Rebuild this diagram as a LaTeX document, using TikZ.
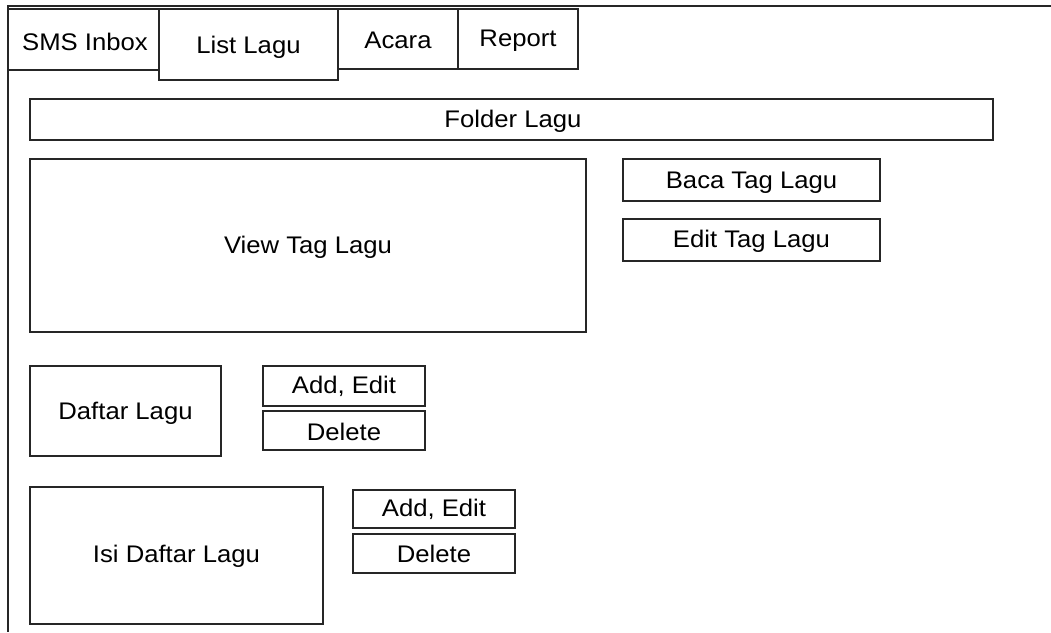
\documentclass[tikz,border=0pt]{standalone}
\usepackage{fontspec}
\setmainfont{Liberation Sans}
\newcommand{\wtxt}[1]{\scalebox{1.07}[1]{#1}}
\begin{document}
\begin{tikzpicture}[x=1pt,y=-1pt,
  box/.style={draw=black!85,line width=1.3pt,fill=white},
  lbl/.style={font=\fontsize{24}{28}\selectfont,inner sep=0pt,yshift=-1.5pt}]
\useasboundingbox (0,0) rectangle (1051,632);
% frame
\draw[line width=1.3pt,black!85] (1051,6) -- (8,6) -- (8,632);
% tabs
\draw[box] (8,9) rectangle (159,70);
\node[lbl] (t1) at (85,40) {\wtxt{SMS Inbox}};
\draw[box] (338,9) rectangle (458,69);
\node[lbl] (t3) at (398,39) {\wtxt{Acara}};
\draw[box] (458,9) rectangle (578,69);
\node[lbl] (t4) at (518,39) {\wtxt{Report}};
\draw[box] (159,9) rectangle (338,80);
\node[lbl] (t2) at (248.5,46) {\wtxt{List Lagu}};
% folder
\draw[box] (30,99) rectangle (993,140);
\node[lbl] (fl) at (513,120) {\wtxt{Folder Lagu}};
% view tag
\draw[box] (30,159) rectangle (586,332);
\node[lbl] (vt) at (308,246) {\wtxt{View Tag Lagu}};
\draw[box] (623,159) rectangle (880,201);
\node[lbl] (bt) at (751.5,181) {\wtxt{Baca Tag Lagu}};
\draw[box] (623,219) rectangle (880,261);
\node[lbl] (et) at (751.5,240) {\wtxt{Edit Tag Lagu}};
% daftar
\draw[box] (30,366) rectangle (221,456);
\node[lbl] (dl) at (125.5,412) {\wtxt{Daftar Lagu}};
\draw[box] (263,366) rectangle (425,406);
\node[lbl] (ae1) at (344,385) {\wtxt{Add, Edit}};
\draw[box] (263,411) rectangle (425,450);
\node[lbl] (de1) at (344,430) {\wtxt{Delete}};
% isi
\draw[box] (30,487) rectangle (323,624);
\node[lbl] (idl) at (176.5,555) {\wtxt{Isi Daftar Lagu}};
\draw[box] (353,490) rectangle (515,528);
\node[lbl] (ae2) at (434,508) {\wtxt{Add, Edit}};
\draw[box] (353,534) rectangle (515,573);
\node[lbl] (de2) at (434,552) {\wtxt{Delete}};
\end{tikzpicture}
\end{document}
